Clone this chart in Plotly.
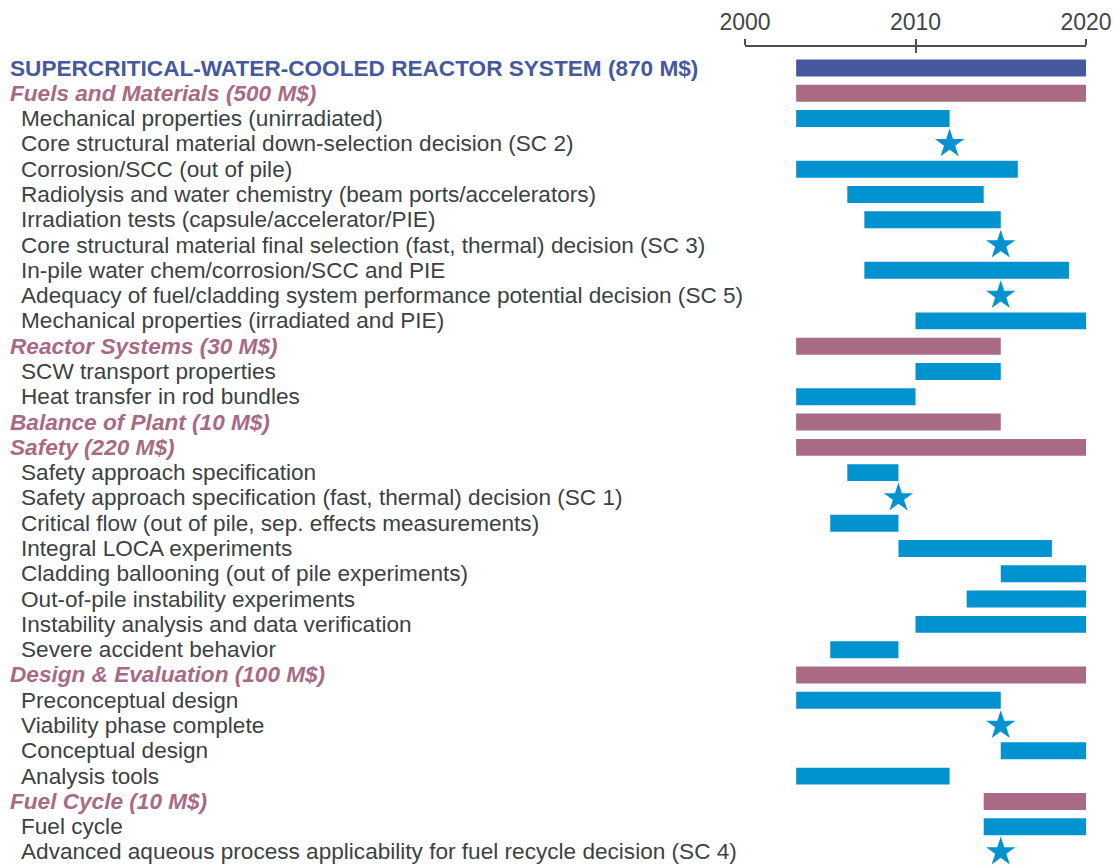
import plotly.graph_objects as go

labels = [
    "SUPERCRITICAL-WATER-COOLED REACTOR SYSTEM (870 M$)",
    "Fuels and Materials (500 M$)",
    "Mechanical properties (unirradiated)",
    "Core structural material down-selection decision (SC 2)",
    "Corrosion/SCC (out of pile)",
    "Radiolysis and water chemistry (beam ports/accelerators)",
    "Irradiation tests (capsule/accelerator/PIE)",
    "Core structural material final selection (fast, thermal) decision (SC 3)",
    "In-pile water chem/corrosion/SCC and PIE",
    "Adequacy of fuel/cladding system performance potential decision (SC 5)",
    "Mechanical properties (irradiated and PIE)",
    "Reactor Systems (30 M$)",
    "SCW transport properties",
    "Heat transfer in rod bundles",
    "Balance of Plant (10 M$)",
    "Safety (220 M$)",
    "Safety approach specification",
    "Safety approach specification (fast, thermal) decision (SC 1)",
    "Critical flow (out of pile, sep. effects measurements)",
    "Integral LOCA experiments",
    "Cladding ballooning (out of pile experiments)",
    "Out-of-pile instability experiments",
    "Instability analysis and data verification",
    "Severe accident behavior",
    "Design & Evaluation (100 M$)",
    "Preconceptual design",
    "Viability phase complete",
    "Conceptual design",
    "Analysis tools",
    "Fuel Cycle (10 M$)",
    "Fuel cycle",
    "Advanced aqueous process applicability for fuel recycle decision (SC 4)",
]
# kind: T = system total, H = area header, B = task bar, S = decision star
kinds = ["T", "H", "B", "S", "B", "B", "B", "S", "B", "S", "B",
         "H", "B", "B", "H", "H", "B", "S", "B", "B", "B", "B", "B", "B",
         "H", "B", "S", "B", "B", "H", "B", "S"]
starts = [2003, 2003, 2003, None, 2003, 2006, 2007, None, 2007, None, 2010,
          2003, 2010, 2003, 2003, 2003, 2006, None, 2005, 2009, 2015, 2013, 2010, 2005,
          2003, 2003, None, 2015, 2003, 2014, 2014, None]
ends = [2020, 2020, 2012, 2012, 2016, 2014, 2015, 2015, 2019, 2015, 2020,
        2015, 2015, 2010, 2015, 2020, 2009, 2009, 2009, 2018, 2020, 2020, 2020, 2009,
        2020, 2015, 2015, 2020, 2012, 2020, 2020, 2015]
tick_years = [2000, 2010, 2020]

NAVY = "#46599E"
MAUVE = "#A86A85"
BLUE = "#0093D0"
TEXT = "#3C4242"
FONT = "Liberation Sans, Arial, Helvetica"

W, H = 1113, 865
row_px = 25.29
first_row_px = 68
top_px = 47
x0_px, x1_px = 745, 1086

fig = go.Figure()

color_map = {"T": NAVY, "H": MAUVE, "B": BLUE}
for kind in ["T", "H", "B"]:
    ys, bases, lens = [], [], []
    for i, k in enumerate(kinds):
        if k == kind:
            ys.append(i)
            bases.append(starts[i])
            lens.append(ends[i] - starts[i])
    fig.add_trace(go.Bar(
        y=ys, x=lens, base=bases, orientation="h",
        marker=dict(color=color_map[kind], line=dict(width=0)),
        width=0.67, showlegend=False, hoverinfo="skip",
    ))

sy = [i for i, k in enumerate(kinds) if k == "S"]
sx = [ends[i] for i in sy]
fig.add_trace(go.Scatter(
    x=sx, y=sy, mode="markers",
    marker=dict(symbol="star", size=22, color=BLUE, line=dict(width=0)),
    showlegend=False, hoverinfo="skip",
))
# helper trace for the inner tick axis
fig.add_trace(go.Scatter(x=[2000], y=[0], xaxis="x2", mode="markers",
                         marker=dict(opacity=0), showlegend=False, hoverinfo="skip"))

for i, (lab, k) in enumerate(zip(labels, kinds)):
    if k == "T":
        font = dict(family=FONT, size=22.6, color=NAVY)
        text = "<b>%s</b>" % lab
        xpx = 8
    elif k == "H":
        font = dict(family=FONT, size=22.6, color=MAUVE)
        text = "<b><i>%s</i></b>" % lab
        xpx = 8
    else:
        font = dict(family=FONT, size=22.6, color=TEXT)
        text = lab
        xpx = 19
    fig.add_annotation(x=xpx / W, xref="paper", y=i, yref="y", text=text,
                       showarrow=False, xanchor="left", yanchor="middle", font=font)

y_top = -(first_row_px - top_px) / row_px
y_bot = (H - first_row_px) / row_px

axis_common = dict(range=[2000, 2020], tickvals=tick_years, side="top",
                   domain=[x0_px / W, x1_px / W], fixedrange=True,
                   showgrid=False, zeroline=False, showline=True,
                   linecolor="#4A5050", linewidth=1.5, tickcolor="#4A5050",
                   tickwidth=1.5, ticklen=6, automargin=False)

fig.update_layout(
    width=W, height=H,
    margin=dict(l=0, r=0, t=top_px, b=0),
    plot_bgcolor="white", paper_bgcolor="white",
    barmode="overlay",
    xaxis=dict(**axis_common, ticks="outside",
               tickfont=dict(family=FONT, size=23, color="#404545")),
    xaxis2=dict(**axis_common, ticks="inside", overlaying="x", showticklabels=False),
    yaxis=dict(range=[y_bot, y_top], visible=False, fixedrange=True),
    showlegend=False,
)

fig.write_html("out.html", config={"displayModeBar": False},
               post_script="document.body.style.margin='0';")
